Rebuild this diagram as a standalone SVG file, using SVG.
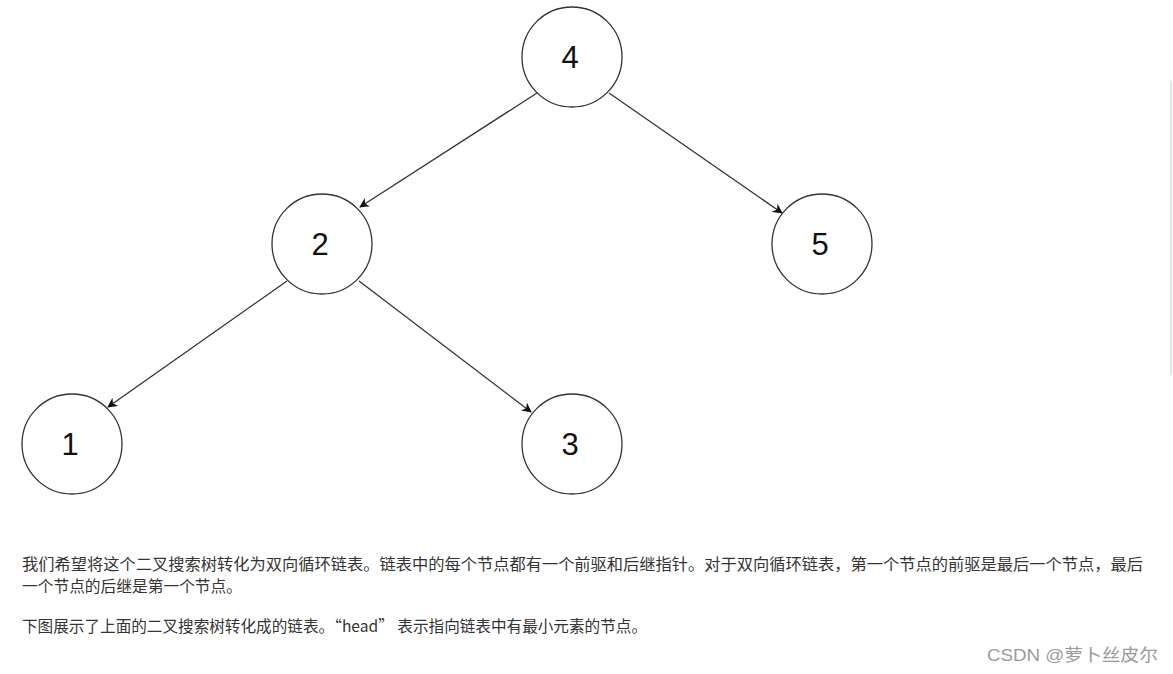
<svg xmlns="http://www.w3.org/2000/svg" width="1173" height="674" viewBox="0 0 1173 674">
<style>
.node circle{fill:#fff;stroke:#333;stroke-width:1.3}
.node text{font-family:"Liberation Sans",Arial,sans-serif;font-size:31px;fill:#111;text-anchor:middle;dominant-baseline:central}
.edge{stroke:#333;stroke-width:1.3;fill:none;marker-end:url(#ah)}
.body{font-family:"Noto Sans CJK SC","Liberation Sans",sans-serif;font-size:15.5px;fill:#333}
</style>
<defs>
<marker id="ah" viewBox="0 0 10 10" refX="9" refY="5" markerWidth="10" markerHeight="10" markerUnits="userSpaceOnUse" orient="auto">
<path d="M0,0 L10,5 L0,10 L3,5 Z" fill="#111"/>
</marker>
</defs>
<rect width="1173" height="674" fill="#fff"/>
<line x1="1171" y1="81" x2="1171" y2="375" stroke="#e6e6e6" stroke-width="2"/>
<g id="connectors">
<line class="edge" x1="537" y1="93" x2="360" y2="207"/>
<line class="edge" x1="609" y1="93" x2="782" y2="213"/>
<line class="edge" x1="287" y1="281" x2="108" y2="407"/>
<line class="edge" x1="359" y1="281" x2="531" y2="412"/>
</g>
<g id="n4" class="node"><circle cx="572" cy="57" r="50"/><text x="570" y="57">4</text></g>
<g id="n2" class="node"><circle cx="322" cy="244" r="50"/><text x="320" y="244">2</text></g>
<g id="n5" class="node"><circle cx="822" cy="244" r="50"/><text x="820" y="244">5</text></g>
<g id="n1" class="node"><circle cx="72" cy="444" r="50"/><text x="70" y="444">1</text></g>
<g id="n3" class="node"><circle cx="572" cy="444" r="50"/><text x="570" y="444">3</text></g>
<text class="body" x="22" y="570" textLength="1121" lengthAdjust="spacingAndGlyphs">我们希望将这个二叉搜索树转化为双向循环链表。链表中的每个节点都有一个前驱和后继指针。对于双向循环链表，第一个节点的前驱是最后一个节点，最后</text>
<text class="body" x="22" y="592" textLength="220" lengthAdjust="spacingAndGlyphs">一个节点的后继是第一个节点。</text>
<text class="body" x="22" y="632" textLength="625" lengthAdjust="spacingAndGlyphs">下图展示了上面的二叉搜索树转化成的链表。“head” 表示指向链表中有最小元素的节点。</text>
<text x="987" y="661" font-family="'Liberation Sans','Noto Sans CJK SC',sans-serif" font-size="17" fill="#9a9a9a" textLength="171" lengthAdjust="spacingAndGlyphs">CSDN @萝卜丝皮尔</text>
</svg>
